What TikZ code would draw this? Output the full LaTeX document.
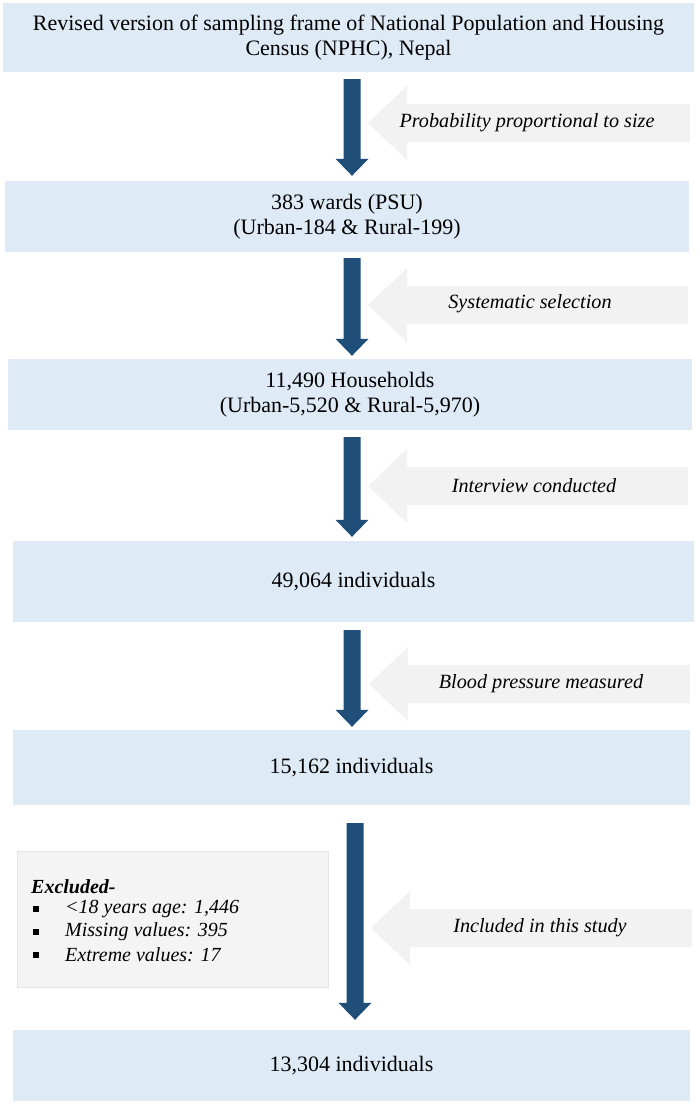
\documentclass[tikz,border=0pt]{standalone}
\usepackage{fontspec}
\setmainfont{Liberation Serif}
\usetikzlibrary{calc}
\definecolor{boxblue}{HTML}{DEEAF6}
\definecolor{arrowblue}{HTML}{1F4E79}
\definecolor{sidegray}{HTML}{F2F2F2}
\definecolor{exclgray}{HTML}{F4F4F4}
\definecolor{exclline}{HTML}{E4E4E4}
\newcommand\downarr[2]{%
  \fill[arrowblue] let \p1=#1, \p2=#2 in
    (\x1-8.5pt,\y1) -- (\x1+8.5pt,\y1) -- (\x1+8.5pt,\y2+17pt) -- (\x1+16.5pt,\y2+17pt)
    -- (\x2,\y2) -- (\x1-16.5pt,\y2+17pt) -- (\x1-8.5pt,\y2+17pt) -- cycle;}
\newcommand\sidearr[2]{% #1 tip coordinate name, #2 right x
  \fill[sidegray] let \p1=(#1) in
    (\x1,\y1) -- (\x1+39pt,\y1+37pt) -- (\x1+39pt,\y1+19pt) -- (#2pt,\y1+19pt)
    -- (#2pt,\y1-19pt) -- (\x1+39pt,\y1-19pt) -- (\x1+39pt,\y1-37pt) -- cycle;}
\begin{document}
\begin{tikzpicture}[x=1pt,y=-1pt,
  box/.style={fill=boxblue, inner sep=0pt, align=center, font=\fontsize{22}{25.5}\selectfont},
  lbl/.style={font=\fontsize{20.2}{24}\selectfont\itshape, inner sep=0pt},
  excl/.style={fill=exclgray, draw=exclline, line width=0.6pt, inner sep=0pt},
  excltext/.style={font=\fontsize{20}{24}\selectfont\itshape, inner sep=0pt, anchor=west},
  bullet/.style={fill=black, inner sep=0pt, minimum size=6pt}]
\useasboundingbox (0,0) rectangle (700,1105);
\fill[white] (0,0) rectangle (700,1105);

% main boxes
\node[box, minimum width=691pt, minimum height=69pt] (b1) at (348.5,37.5)
  {Revised version of sampling frame of National Population and Housing\\Census (NPHC), Nepal};
\node[box, minimum width=684pt, minimum height=71pt] (b2) at (347,216.5)
  {383 wards (PSU)\\(Urban-184 \& Rural-199)};
\node[box, minimum width=684pt, minimum height=71pt] (b3) at (350,394.5)
  {11,490 Households\\(Urban-5,520 \& Rural-5,970)};
\node[box, minimum width=681pt, minimum height=81pt] (b4) at (353.5,581.5)
  {49,064 individuals};
\node[box, minimum width=677pt, minimum height=75pt] (b5) at (351.5,767.5)
  {15,162 individuals};
\node[box, minimum width=677pt, minimum height=71pt] (b6) at (351.5,1065.5)
  {13,304 individuals};

% side (grey) arrows
\coordinate (g1) at (368,123);
\coordinate (g2) at (368,305);
\coordinate (g3) at (368,486);
\coordinate (g4) at (369,684);
\coordinate (g5) at (371,928);
\sidearr{g1}{690}
\sidearr{g2}{688}
\sidearr{g3}{688}
\sidearr{g4}{690}
\sidearr{g5}{692}
\node[lbl] (l1) at (527,123) {Probability proportional to size};
\node[lbl] (l2) at (530,304) {Systematic selection};
\node[lbl] (l3) at (534,486) {Interview conducted};
\node[lbl] (l4) at (541,684) {Blood pressure measured};
\node[lbl] (l5) at (540,928) {Included in this study};

% excluded box
\node[excl, minimum width=311pt, minimum height=136pt] (ex) at (172.5,919) {};
\node[excltext, font=\fontsize{20}{24}\selectfont\bfseries\itshape] (exh) at (31,887) {Excluded-};
\node[bullet] (k1) at (36,909) {};
\node[bullet] (k2) at (36,932) {};
\node[bullet] (k3) at (36,955) {};
\node[excltext] (e1) at (65,909) {<18 years age: 1,446};
\node[excltext] (e2) at (65,932) {Missing values: 395};
\node[excltext] (e3) at (65,955) {Extreme values: 17};

% blue downward arrows
\coordinate (X) at (352,0);
\coordinate (X5) at (355,0);
\downarr{([yshift=-7pt]b1.south -| X)}{([yshift=5pt]b2.north -| X)}
\downarr{([yshift=-6pt]b2.south -| X)}{([yshift=3pt]b3.north -| X)}
\downarr{([yshift=-7pt]b3.south -| X)}{([yshift=4pt]b4.north -| X)}
\downarr{([yshift=-8pt]b4.south -| X)}{([yshift=3pt]b5.north -| X)}
\downarr{([yshift=-18pt]b5.south -| X5)}{([yshift=10pt]b6.north -| X5)}
\end{tikzpicture}
\end{document}
